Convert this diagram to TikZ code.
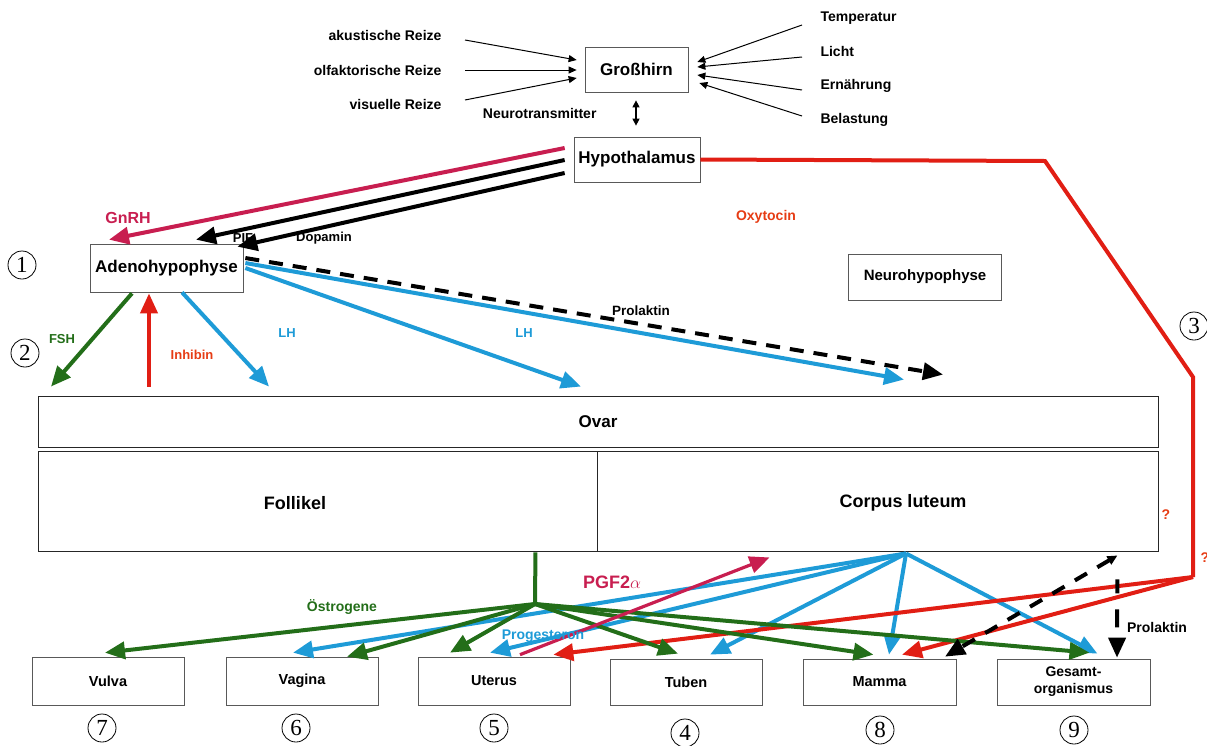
\documentclass[tikz,border=0pt]{standalone}
\usepackage{fontspec}
\setmainfont{Liberation Sans}
\newfontfamily\serifnum{Liberation Serif}
\usetikzlibrary{arrows.meta}
\definecolor{cgreen}{RGB}{35,110,25}
\definecolor{cblue}{RGB}{30,155,215}
\definecolor{cred}{RGB}{225,30,20}
\definecolor{ccrim}{RGB}{200,30,80}
\definecolor{corange}{RGB}{230,60,20}
\newcommand\fsz[2]{\fontsize{#1}{#2}\selectfont}
\begin{document}
\begin{tikzpicture}[x=1pt,y=-1pt,
  box/.style={draw=black!65,line width=0.7pt,inner sep=0pt,fill=white},
  bigbox/.style={draw=black!85,line width=0.9pt,inner sep=0pt},
  lbl/.style={font=\bfseries\fsz{14}{16}},
  thinarr/.style={-{Triangle[length=8pt,width=7pt]},line width=1pt},
  bigarr/.style={-{Triangle[length=20pt,width=17pt]},line width=4pt},
  cnum/.style={circle,draw,line width=0.8pt,minimum size=28pt,inner sep=0pt,font=\serifnum\fsz{23}{23}}]
\useasboundingbox (0,0) rectangle (1207,745);

% boxes
\node[box,minimum width=103,minimum height=45,font=\bfseries\fsz{17}{19}] (gross) at (636.5,69.5) {Großhirn};
\node[box,minimum width=126,minimum height=45,font=\bfseries\fsz{17}{19}] (hypo) at (637,159.5) {Hypothalamus};
\node[box,minimum width=153,minimum height=48,font=\bfseries\fsz{17}{19}] (adeno) at (166.5,268) {Adenohypophyse};
\node[box,minimum width=153,minimum height=46,font=\bfseries\fsz{15}{17}] (neuro) at (925,277) {Neurohypophyse};
\node[bigbox,minimum width=1120,minimum height=51,font=\bfseries\fsz{17}{19}] (ovar) at (598,421.5) {Ovar};
\node[bigbox,minimum width=559,minimum height=100] (follikel) at (317.5,501) {};
\node[bigbox,minimum width=561,minimum height=100] (corpus) at (877.5,501) {};
\node[font=\bfseries\fsz{18}{20}] (follikeltxt) at (295,503) {Follikel};
\node[font=\bfseries\fsz{18}{20}] (corpustxt) at (903,503) {Corpus luteum};
\node[box,minimum width=152,minimum height=48,font=\bfseries\fsz{14.5}{17}] (vulva) at (108,681) {Vulva};
\node[box,minimum width=152,minimum height=48,font=\bfseries\fsz{14.5}{17}] (vagina) at (302,681) {Vagina};
\node[box,minimum width=152,minimum height=48,font=\bfseries\fsz{14.5}{17}] (uterus) at (494,681) {Uterus};
\node[box,minimum width=152,minimum height=46,font=\bfseries\fsz{14.5}{17}] (tuben) at (686,682) {Tuben};
\node[box,minimum width=153,minimum height=46,font=\bfseries\fsz{14.5}{17}] (mamma) at (879.5,682) {Mamma};
\node[box,minimum width=153,minimum height=46,align=center,font=\bfseries\fsz{14}{17}] (gesamt) at (1073.5,682) {Gesamt-\\organismus};

% top labels
\node[lbl,anchor=east] (aku) at (445,35) {akustische Reize};
\node[lbl,anchor=east] (olf) at (445,70) {olfaktorische Reize};
\node[lbl,anchor=east] (vis) at (445,104) {visuelle Reize};
\node[lbl,anchor=west] (temp) at (817,18) {Temperatur};
\node[lbl,anchor=west] (licht) at (817,51) {Licht};
\node[lbl,anchor=west] (ern) at (817,86) {Ernährung};
\node[lbl,anchor=west] (bel) at (817,120) {Belastung};
\node[lbl,anchor=east] (neurot) at (600,113) {Neurotransmitter};

\draw[thinarr] ([shift={(20,5)}]aku.east) -- ([shift={(-8,-9.5)}]gross.west);
\draw[thinarr] ([shift={(20,0)}]olf.east) -- ([shift={(-8,0.5)}]gross.west);
\draw[thinarr] ([shift={(20,-4)}]vis.east) -- ([shift={(-8,8.5)}]gross.west);
\draw[thinarr] ([shift={(-15,7)}]temp.west) -- ([shift={(9,-7.5)}]gross.east);
\draw[thinarr] ([shift={(-15,6)}]licht.west) -- ([shift={(9,-2.5)}]gross.east);
\draw[thinarr] ([shift={(-15,4)}]ern.west) -- ([shift={(9,5.5)}]gross.east);
\draw[thinarr] ([shift={(-15,-4)}]bel.west) -- ([shift={(11,13.5)}]gross.east);
\draw[{Triangle[length=7pt,width=7pt]}-{Triangle[length=7pt,width=7pt]},line width=1.2pt] ([shift={(-0.5,8)}]gross.south) -- ([shift={(-1,-11)}]hypo.north);

% hypothalamus -> adenohypophyse
\draw[bigarr,ccrim] ([shift={(-9,-11.5)}]hypo.west) -- ([shift={(-57.5,-4)}]adeno.north);
\draw[bigarr,black] ([shift={(-9,0.5)}]hypo.west) -- ([shift={(29.5,-4)}]adeno.north);
\draw[bigarr,black] ([shift={(-9,13.5)}]hypo.west) -- ([shift={(-6,3)}]adeno.north east);
\node[font=\bfseries\fsz{16}{18},text=ccrim] (gnrh) at (128,218) {GnRH};
\node[font=\bfseries\fsz{13}{15}] (pif) at (243,238) {PIF};
\node[font=\bfseries\fsz{13}{15}] (dopa) at (324,238) {Dopamin};

% oxytocin path
\coordinate (oxa) at (1045,161);
\coordinate (oxb) at (1193,377);
\coordinate (oxc) at (1193,577);
\draw[cred,line width=4pt,line join=miter] (hypo.east) -- (oxa) -- (oxb) -- (oxc);
\node[font=\bfseries\fsz{14}{16},text=corange] (oxy) at (766,217) {Oxytocin};
\node[font=\bfseries\fsz{14}{16},text=corange] (q1) at (1166,515) {?};
\node[font=\bfseries\fsz{14}{16},text=corange] (q2) at (1205,558) {?};

% adenohypophyse -> ovar
\draw[bigarr,cgreen] ([shift={(-34.5,1)}]adeno.south) -- ([shift={(-547,-9)}]ovar.north);
\draw[bigarr,cred] ([shift={(-449,-9)}]ovar.north) -- ([shift={(-17.5,1)}]adeno.south);
\draw[bigarr,cblue] ([shift={(15.5,0)}]adeno.south) -- ([shift={(-329,-9)}]ovar.north);
\draw[bigarr,cblue] ([shift={(2,0)}]adeno.east) -- ([shift={(-17,-9)}]ovar.north);
\draw[bigarr,cblue] ([shift={(2,-5)}]adeno.east) -- ([shift={(306,-16)}]ovar.north);
\draw[bigarr,black,dash pattern=on 14pt off 10pt] ([shift={(2,-10)}]adeno.east) -- ([shift={(345,-21)}]ovar.north);
\node[font=\bfseries\fsz{13}{15},text=cgreen] (fsh) at (62,339) {FSH};
\node[font=\bfseries\fsz{13}{15},text=corange] (inh) at (192,355) {Inhibin};
\node[font=\bfseries\fsz{13}{15},text=cblue] (lh1) at (287,333) {LH};
\node[font=\bfseries\fsz{13}{15},text=cblue] (lh2) at (524,333) {LH};
\node[font=\bfseries\fsz{13.5}{15}] (prl1) at (641,311) {Prolaktin};

% progesterone from corpus luteum
\coordinate (clp) at ([shift={(28.5,2)}]corpus.south);
\draw[bigarr,cblue] (clp) -- ([shift={(-9,-4)}]vagina.north);
\draw[bigarr,cblue] (clp) -- ([shift={(-4,-4)}]uterus.north);
\draw[bigarr,cblue] (clp) -- ([shift={(24,-4)}]tuben.north);
\draw[bigarr,cblue] (clp) -- ([shift={(9.5,-4)}]mamma.north);
\draw[bigarr,cblue] (clp) -- ([shift={(24,-5)}]gesamt.north);

% oxytocin arrows
\draw[bigarr,cred] (oxc) -- ([shift={(-17,-2)}]uterus.north east);
\draw[bigarr,cred] (oxc) -- ([shift={(22.5,-4)}]mamma.north);

% estrogens from follikel
\coordinate (fork) at (535,604);
\draw[cgreen,line width=4pt] ([shift={(-62,1)}]follikel.south east) -- (fork);
\draw[bigarr,cgreen] (fork) -- ([shift={(-3,-4)}]vulva.north);
\draw[bigarr,cgreen] (fork) -- ([shift={(45,0)}]vagina.north);
\draw[bigarr,cgreen] (fork) -- ([shift={(-44,-4)}]uterus.north);
\draw[bigarr,cgreen] (fork) -- ([shift={(-8,-5)}]tuben.north);
\draw[bigarr,cgreen] (fork) -- ([shift={(-6,-4)}]mamma.north);
\draw[bigarr,cgreen] (fork) -- ([shift={(16,-6)}]gesamt.north);

% PGF2alpha
\draw[bigarr,ccrim,line width=3.2pt] ([shift={(26,-2)}]uterus.north) -- ([shift={(173,6)}]corpus.south west);

% prolaktin dashed at right
\coordinate (plk) at ([shift={(-41,4)}]corpus.south east);
\draw[{Triangle[length=10pt,width=9pt]}-{Triangle[length=20pt,width=17pt]},line width=4pt,dash pattern=on 14pt off 12pt] (plk) -- ([shift={(65.5,-2)}]mamma.north);
\draw[bigarr,black,dash pattern=on 0pt off 24pt on 14pt off 16pt on 18pt off 8pt] (plk) -- ([shift={(43.5,-1)}]gesamt.north);

\node[font=\bfseries\fsz{14}{16},text=cgreen] (oestr) at (342,607) {Östrogene};
\node[font=\bfseries\fsz{14}{16},text=cblue] (prog) at (543,636) {Progesteron};
\node[font=\bfseries\fsz{18}{20},text=ccrim] (pgf) at (612,582) {PGF2\(\alpha\)};
\node[font=\bfseries\fsz{14}{16}] (prl2) at (1157,627) {Prolaktin};

% circled numbers
\node[cnum] (n1) at (22,265) {1};
\node[cnum] (n2) at (25,353) {2};
\node[cnum] (n3) at (1194,326) {3};
\node[cnum] (n7) at (102,728) {7};
\node[cnum] (n6) at (296,728) {6};
\node[cnum] (n5) at (494,728) {5};
\node[cnum] (n4) at (685,733) {4};
\node[cnum] (n8) at (880,730) {8};
\node[cnum] (n9) at (1074,730) {9};
\end{tikzpicture}
\end{document}
